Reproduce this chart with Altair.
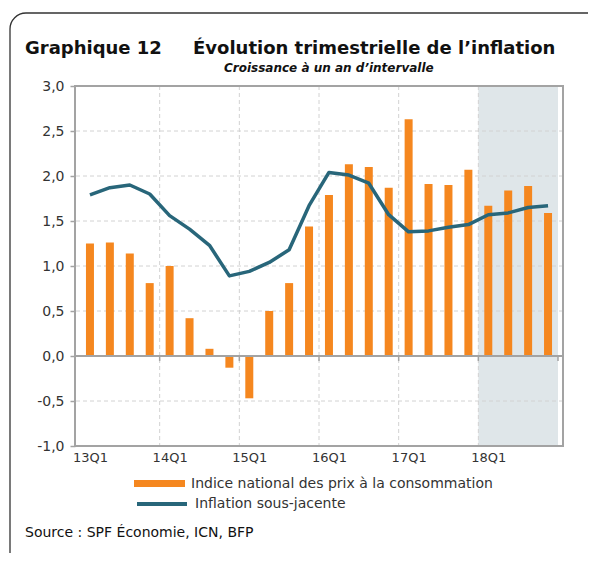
import altair as alt
import pandas as pd

# ---------------- data ----------------
quarters = ["13Q1", "13Q2", "13Q3", "13Q4",
            "14Q1", "14Q2", "14Q3", "14Q4",
            "15Q1", "15Q2", "15Q3", "15Q4",
            "16Q1", "16Q2", "16Q3", "16Q4",
            "17Q1", "17Q2", "17Q3", "17Q4",
            "18Q1", "18Q2", "18Q3", "18Q4"]
ipc = [1.25, 1.26, 1.14, 0.81, 1.00, 0.42, 0.08, -0.13,
       -0.47, 0.50, 0.81, 1.44, 1.79, 2.13, 2.10, 1.87,
       2.63, 1.91, 1.90, 2.07, 1.67, 1.84, 1.89, 1.59]
core = [1.79, 1.87, 1.90, 1.80, 1.56, 1.41, 1.23, 0.89,
        0.94, 1.04, 1.18, 1.67, 2.04, 2.01, 1.92, 1.57,
        1.38, 1.39, 1.43, 1.46, 1.57, 1.59, 1.65, 1.67]
y_ticks = [-1.0, -0.5, 0.0, 0.5, 1.0, 1.5, 2.0, 2.5, 3.0]
forecast_start = "18Q1"

series_ipc = "Indice national des prix à la consommation"
series_core = "Inflation sous-jacente"
title_num = "Graphique 12"
title_main = "Évolution trimestrielle de l’inflation"
subtitle = "Croissance à un an d’intervalle"
source = "Source : SPF Économie, ICN, BFP"

# ---------------- style ----------------
ORANGE = "#f5871f"
TEAL = "#28667a"
SHADE = "#dfe6e9"
GRID = "#d2d2d2"
AXIS = "#a3a3a3"
FONT = "DejaVu Sans"
PLOT_W, PLOT_H = 488, 360

n = len(quarters)
df = pd.DataFrame({"quarter": quarters, "idx": list(range(n)), "ipc": ipc, "core": core})
df["xc"] = df["idx"] + 0.5
df["s_ipc"] = series_ipc
df["s_core"] = series_core

year_starts = [i for i, q in enumerate(quarters) if q.endswith("Q1")]
bounds_df = pd.DataFrame({"b": [i for i in year_starts if i > 0]})
ticks_df = pd.DataFrame({"b": [i for i in year_starts if i > 0] + [n]})
label_pos = [i + 0.5 for i in year_starts]
fs = quarters.index(forecast_start)
shade_df = pd.DataFrame({"start": [fs], "end": [n]})
hgrid_df = pd.DataFrame({"v": [v for v in y_ticks if v != 0.0]})
zero_df = pd.DataFrame({"v": [0.0]})
one = pd.DataFrame({"a": [0]})

label_array = "[" + ",".join("'%s'" % q for q in quarters) + "]"

xscale = alt.Scale(domain=[0, n], nice=False, zero=False)
yscale = alt.Scale(domain=[y_ticks[0], y_ticks[-1]], nice=False, zero=False)
xaxis = alt.Axis(values=label_pos, labelExpr=label_array + "[floor(datum.value)]",
                 ticks=False, domain=False, grid=False, labelFontSize=13,
                 labelFont=FONT, labelColor="#333", labelPadding=5, labelFlush=False)
yaxis = alt.Axis(values=y_ticks,
                 labelExpr="replace(replace(format(datum.value, '.1f'), '.', ','), '\u2212', '-')",
                 domain=False, grid=False, ticks=True, tickColor=AXIS, tickSize=5,
                 tickWidth=1.5, labelFontSize=14, labelFont=FONT, labelColor="#333",
                 labelPadding=6)


def X(field):
    return alt.X(field, scale=xscale, axis=xaxis, title=None)


def Y(field):
    return alt.Y(field, scale=yscale, axis=yaxis, title=None)


shade = alt.Chart(shade_df).mark_rect(color=SHADE).encode(x=X("start:Q"), x2="end:Q")

hgrid = alt.Chart(hgrid_df).mark_rule(color=GRID, strokeWidth=1, strokeDash=[4, 3]).encode(
    y=Y("v:Q"))

vgrid = alt.Chart(bounds_df).mark_rule(color=GRID, strokeWidth=1, strokeDash=[4, 3]).encode(
    x=X("b:Q"))

bars = alt.Chart(df).mark_bar(size=8).encode(
    x=X("xc:Q"),
    y=Y("ipc:Q"),
    fill=alt.Fill("s_ipc:N", scale=alt.Scale(domain=[series_ipc], range=[ORANGE]),
                  legend=alt.Legend(title=None, orient="none", legendX=59, legendY=372,
                                    symbolType="M-1,-0.135H1V0.135H-1Z", symbolSize=2601,
                                    symbolStrokeWidth=0, labelFontSize=14, labelFont=FONT,
                                    labelColor="#333", labelOffset=6, labelLimit=500,
                                    padding=0)),
)

zero = alt.Chart(zero_df).mark_rule(color=AXIS, strokeWidth=2).encode(y=Y("v:Q"))

zticks = alt.Chart(ticks_df).mark_rule(color=AXIS, strokeWidth=1.5).encode(
    x=X("b:Q"),
    y=alt.Y(datum=0, scale=yscale, axis=yaxis, title=None),
    y2=alt.Y2(datum=-0.055),
)

line = alt.Chart(df).mark_line(strokeWidth=3.5, strokeJoin="round").encode(
    x=X("xc:Q"),
    y=Y("core:Q"),
    stroke=alt.Stroke("s_core:N", scale=alt.Scale(domain=[series_core], range=[TEAL]),
                      legend=alt.Legend(title=None, orient="none", legendX=60, legendY=391,
                                        symbolType="stroke", symbolSize=2500,
                                        symbolStrokeWidth=4, labelFontSize=14, labelFont=FONT,
                                        labelColor="#333", labelOffset=6, labelLimit=500,
                                        padding=0)),
)

plot_frame = alt.Chart(one).mark_rect(filled=False, stroke=AXIS, strokeWidth=2).encode(
    x=alt.value(0), x2=alt.value(PLOT_W), y=alt.value(0), y2=alt.value(PLOT_H))

outer_frame = alt.Chart(one).mark_rect(filled=False, stroke="#333", strokeWidth=1.3,
                                       cornerRadius=16).encode(
    x=alt.value(-65), x2=alt.value(560), y=alt.value(-73), y2=alt.value(520))

t1 = alt.Chart(one).mark_text(align="left", baseline="alphabetic", font=FONT, fontWeight="bold",
                              fontSize=18, color="#111").encode(
    x=alt.value(-50), y=alt.value(-32), text=alt.value(title_num))
t2 = alt.Chart(one).mark_text(align="left", baseline="alphabetic", font=FONT, fontWeight="bold",
                              fontSize=18, color="#111").encode(
    x=alt.value(118), y=alt.value(-32), text=alt.value(title_main))
t3 = alt.Chart(one).mark_text(align="left", baseline="alphabetic", font=FONT, fontWeight="bold",
                              fontStyle="italic", fontSize=12, color="#111").encode(
    x=alt.value(149), y=alt.value(-14), text=alt.value(subtitle))
t4 = alt.Chart(one).mark_text(align="left", baseline="alphabetic", font=FONT,
                              fontSize=14, color="#111").encode(
    x=alt.value(-50), y=alt.value(451), text=alt.value(source))

chart = alt.layer(shade, hgrid, vgrid, bars, zero, zticks, line, plot_frame, outer_frame,
                  t1, t2, t3, t4).properties(
    width=PLOT_W, height=PLOT_H,
    autosize=alt.AutoSizeParams(type="none"),
    padding={"left": 67, "top": 78, "right": 25, "bottom": 107},
    background="white",
).configure_view(stroke=None)

chart.save("out.html", embed_options={"renderer": "svg", "actions": False})
